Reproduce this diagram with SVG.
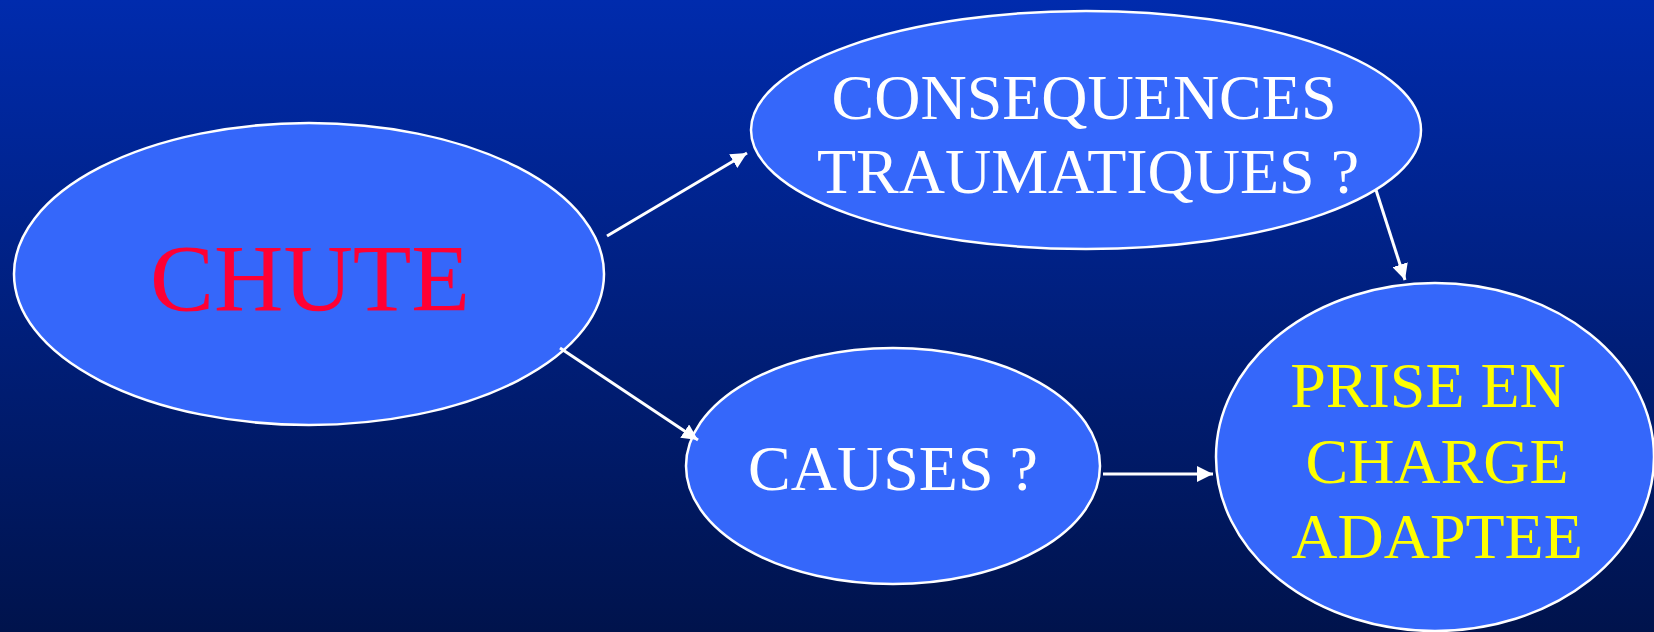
<svg xmlns="http://www.w3.org/2000/svg" width="1654" height="632" viewBox="0 0 1654 632">
  <defs>
    <linearGradient id="bg" x1="0" y1="0" x2="0" y2="1">
      <stop offset="0" stop-color="#002BAD"/>
      <stop offset="1" stop-color="#00134C"/>
    </linearGradient>
    <marker id="arrow" viewBox="0 0 16 16" refX="16" refY="8" markerWidth="16" markerHeight="16" markerUnits="userSpaceOnUse" orient="auto">
      <path d="M0,0 L16,8 L0,16 Z" fill="#FFFFFF"/>
    </marker>
  </defs>
  <style>
    .node { fill: #3567FA; stroke: #FFFFFF; stroke-width: 2.5; }
    .t { font-family: "Liberation Serif", "Times New Roman", serif; text-anchor: middle; }
    .white { fill: #FFFFFF; font-size: 64px; }
    .yellow { fill: #FFFF00; font-size: 64px; }
    .red { fill: #FF0033; font-size: 96px; }
    .edge { stroke: #FFFFFF; stroke-width: 3; fill: none; marker-end: url(#arrow); }
  </style>
  <rect x="0" y="0" width="1654" height="632" fill="url(#bg)"/>

  <g id="node-chute">
    <ellipse class="node" cx="309" cy="274" rx="295" ry="151"/>
    <text class="t red" x="310" y="311">CHUTE</text>
  </g>
  <g id="node-consequences">
    <ellipse class="node" cx="1086" cy="130" rx="335" ry="119"/>
    <text class="t white" x="1084" y="119">CONSEQUENCES</text>
    <text class="t white" x="1088" y="193">TRAUMATIQUES ?</text>
  </g>
  <g id="node-causes">
    <ellipse class="node" cx="893" cy="466" rx="207" ry="118"/>
    <text class="t white" x="893" y="490">CAUSES ?</text>
  </g>
  <g id="node-prise">
    <ellipse class="node" cx="1435" cy="457" rx="219" ry="174"/>
    <text class="t yellow" x="1428" y="407">PRISE EN</text>
    <text class="t yellow" x="1437" y="483">CHARGE</text>
    <text class="t yellow" x="1437" y="558">ADAPTEE</text>
  </g>

  <g id="connectors">
    <line class="edge" x1="607" y1="236" x2="747" y2="153"/>
    <line class="edge" x1="560" y1="348" x2="698" y2="440"/>
    <line class="edge" x1="1103" y1="474" x2="1213" y2="474"/>
    <line class="edge" x1="1376" y1="190" x2="1405" y2="280"/>
  </g>
</svg>
